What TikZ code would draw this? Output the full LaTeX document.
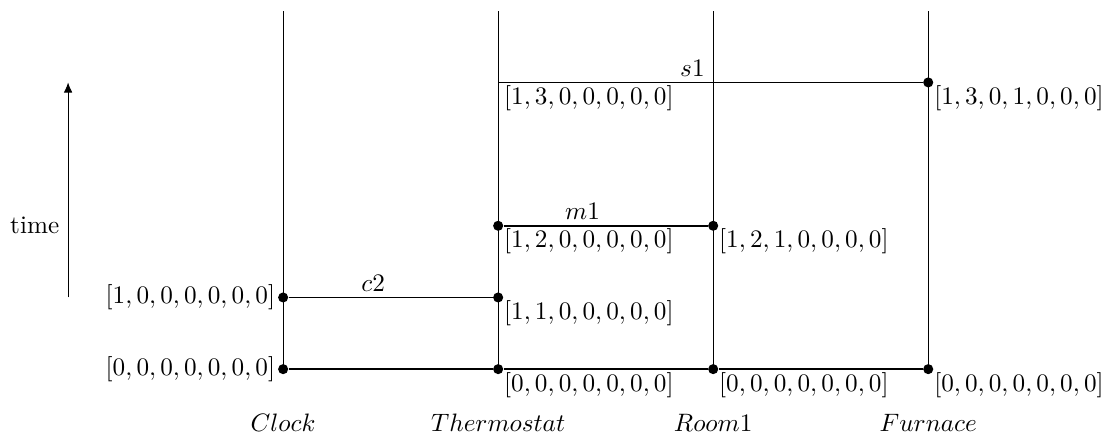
\documentclass[tikz,border=0pt]{standalone}
\usepackage{tikz}
\usetikzlibrary{arrows.meta,positioning}
\tikzset{
  dot/.style={circle, fill=black, draw=none, inner sep=0pt, minimum size=4pt},
  procline/.style={line width=0.4pt},
  msgline/.style={line width=0.6pt},
  vclock/.style={anchor=north west, inner xsep=2.2pt, inner ysep=1pt},
  vclockleft/.style={anchor=east, inner xsep=3pt},
  msglabel/.style={midway, above left, inner sep=2pt},
  procname/.style={inner sep=0pt},
  timearrow/.style={-{Latex[length=4pt, width=3.4pt]}, line width=0.4pt}
}

\begin{document}
\begin{tikzpicture}
\useasboundingbox (-3.95,-0.91) rectangle (11.48,5.15);
\node[dot] (c0) at (0,0) {};
\node[dot] (c1) at (0,1) {};
\coordinate (ctop) at (0,5);
\node[dot] (t0) at (3,0) {};
\node[dot] (t1) at (3,1) {};
\node[dot] (t2) at (3,2) {};
\coordinate (t4) at (3,4);
\coordinate (ttop) at (3,5);
\node[dot] (r0) at (6,0) {};
\node[dot] (r2) at (6,2) {};
\coordinate (rtop) at (6,5);
\node[dot] (f0) at (9,0) {};
\node[dot] (f4) at (9,4) {};
\coordinate (ftop) at (9,5);

\draw[procline] (c0.center) -- (c1.center) -- (ctop);
\draw[procline] (t0.center) -- (t1.center) -- (t2.center) -- (ttop);
\draw[procline] (r0.center) -- (r2.center) -- (rtop);
\draw[procline] (f0.center) -- (f4.center) -- (ftop);

\draw[msgline] (c0) -- (t0);
\draw[msgline] (t0) -- (r0);
\draw[msgline] (r0) -- (f0);
\draw[msgline] (c1) -- node[msglabel] {$c2$} (t1);
\draw[msgline] (t2) -- node[msglabel] {$m1$} (r2);
\draw[msgline] (t4) -- node[msglabel] {$s1$} (f4);

\node[vclockleft] at (c0.center) {$[0,0,0,0,0,0,0]$};
\node[vclockleft] at (c1.center) {$[1,0,0,0,0,0,0]$};
\node[vclock] at (t0.center) {$[0,0,0,0,0,0,0]$};
\node[vclock] at (t1.center) {$[1,1,0,0,0,0,0]$};
\node[vclock] at (t2.center) {$[1,2,0,0,0,0,0]$};
\node[vclock] at (t4) {$[1,3,0,0,0,0,0]$};
\node[vclock] at (r0.center) {$[0,0,0,0,0,0,0]$};
\node[vclock] at (r2.center) {$[1,2,1,0,0,0,0]$};
\node[vclock] at (f0.center) {$[0,0,0,0,0,0,0]$};
\node[vclock] at (f4.center) {$[1,3,0,1,0,0,0]$};

\node[procname] (clock) at (0,-0.75) {$Clock$};
\node[procname] (thermo) at (3,-0.75) {$Thermostat$};
\node[procname] (room) at (6,-0.75) {$Room1$};
\node[procname] (furnace) at (9,-0.75) {$Furnace$};

\coordinate (tlow) at (-3,1);
\coordinate (thigh) at (-3,4);
\draw[timearrow] (tlow) -- (thigh);
\node[left] (time) at (-3,2) {time};
\end{tikzpicture}
\end{document}
